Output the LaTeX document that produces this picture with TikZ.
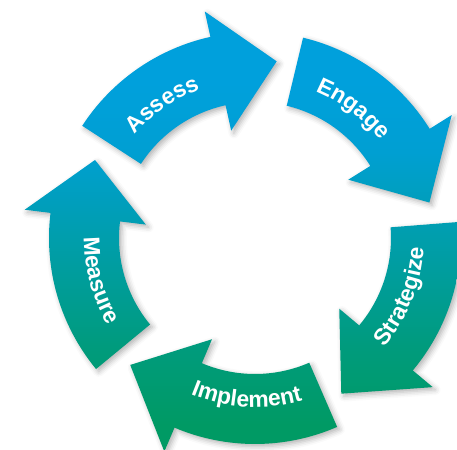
\documentclass[tikz,border=0pt]{standalone}
\usepackage{fontspec}
\newfontfamily\arrowfont{Liberation Sans}
\usetikzlibrary{decorations.text,shadows.blur}

\definecolor{cycleblue}{RGB}{0,160,220}
\definecolor{cyclecyan}{RGB}{0,159,210}
\definecolor{cycleteal}{RGB}{0,158,175}
\definecolor{cyclemint}{RGB}{0,155,125}
\definecolor{cyclegreen}{RGB}{0,154,100}

% one gradient for the whole ring, blue at the top, green at the bottom
\pgfdeclareverticalshading{cycleshade}{100bp}{%
  color(0bp)=(cyclegreen); color(28bp)=(cyclegreen);
  color(37bp)=(cyclemint); color(50bp)=(cycleteal);
  color(59bp)=(cyclecyan); color(67bp)=(cycleblue);
  color(100bp)=(cycleblue)}

% radii of the ring
\newcommand{\rOut}{4.12}
\newcommand{\rIn}{2.72}
\newcommand{\rBarbOut}{4.64}
\newcommand{\rBarbIn}{2.2}
\newcommand{\rTip}{3.56}

% curved arrow: tail angle, head base angle, tip angle
\newcommand{\cyclearrow}[3]{(#1:\rOut) arc[start angle=#1, end angle=#2, radius=\rOut]
  -- (#2:\rBarbOut) -- (#3:\rTip) -- (#2:\rBarbIn) -- (#2:\rIn)
  arc[start angle=#2, end angle=#1, radius=\rIn] -- cycle}

\newcommand{\labelfmt}{\arrowfont\bfseries\fontsize{13}{15}\selectfont}

\begin{document}
\begin{tikzpicture}[
    ring/.style={shading=cycleshade, blur shadow={shadow xshift=1.5pt, shadow yshift=-1.5pt, shadow blur radius=3pt, shadow opacity=30}},
    arrowtext/.style={decorate, decoration={text along path, text align=center, text color=white}}]

    \useasboundingbox (-5.1,-4.24) rectangle (4.04,4.76);

    % the five arrows
    \shade[ring]
        \cyclearrow{147}{102.5}{83}
        \cyclearrow{76.5}{32}{11.5}
        \cyclearrow{4.5}{-40}{-61}
        \cyclearrow{-66.5}{-113}{-134.5}
        \cyclearrow{-140.5}{-187}{-206};

    % labels on top run clockwise
    \path[arrowtext, decoration={text={|\labelfmt|Assess}}] (147:3.17) arc[start angle=147, end angle=102.5, radius=3.17];
    \path[arrowtext, decoration={text={|\labelfmt|Engage}}] (75:3.17) arc[start angle=75, end angle=30.5, radius=3.17];

    % labels below run anticlockwise
    \path[arrowtext, decoration={text={|\labelfmt|Strategize}}] (-44:3.38) arc[start angle=-44, end angle=0.5, radius=3.38];
    \path[arrowtext, decoration={text={|\labelfmt|Implement}}] (-116:3.38) arc[start angle=-116, end angle=-70, radius=3.38];
    \path[arrowtext, decoration={text={|\labelfmt|Measure}}] (-188:3.42) arc[start angle=-188, end angle=-141.5, radius=3.42];
\end{tikzpicture}
\end{document}
